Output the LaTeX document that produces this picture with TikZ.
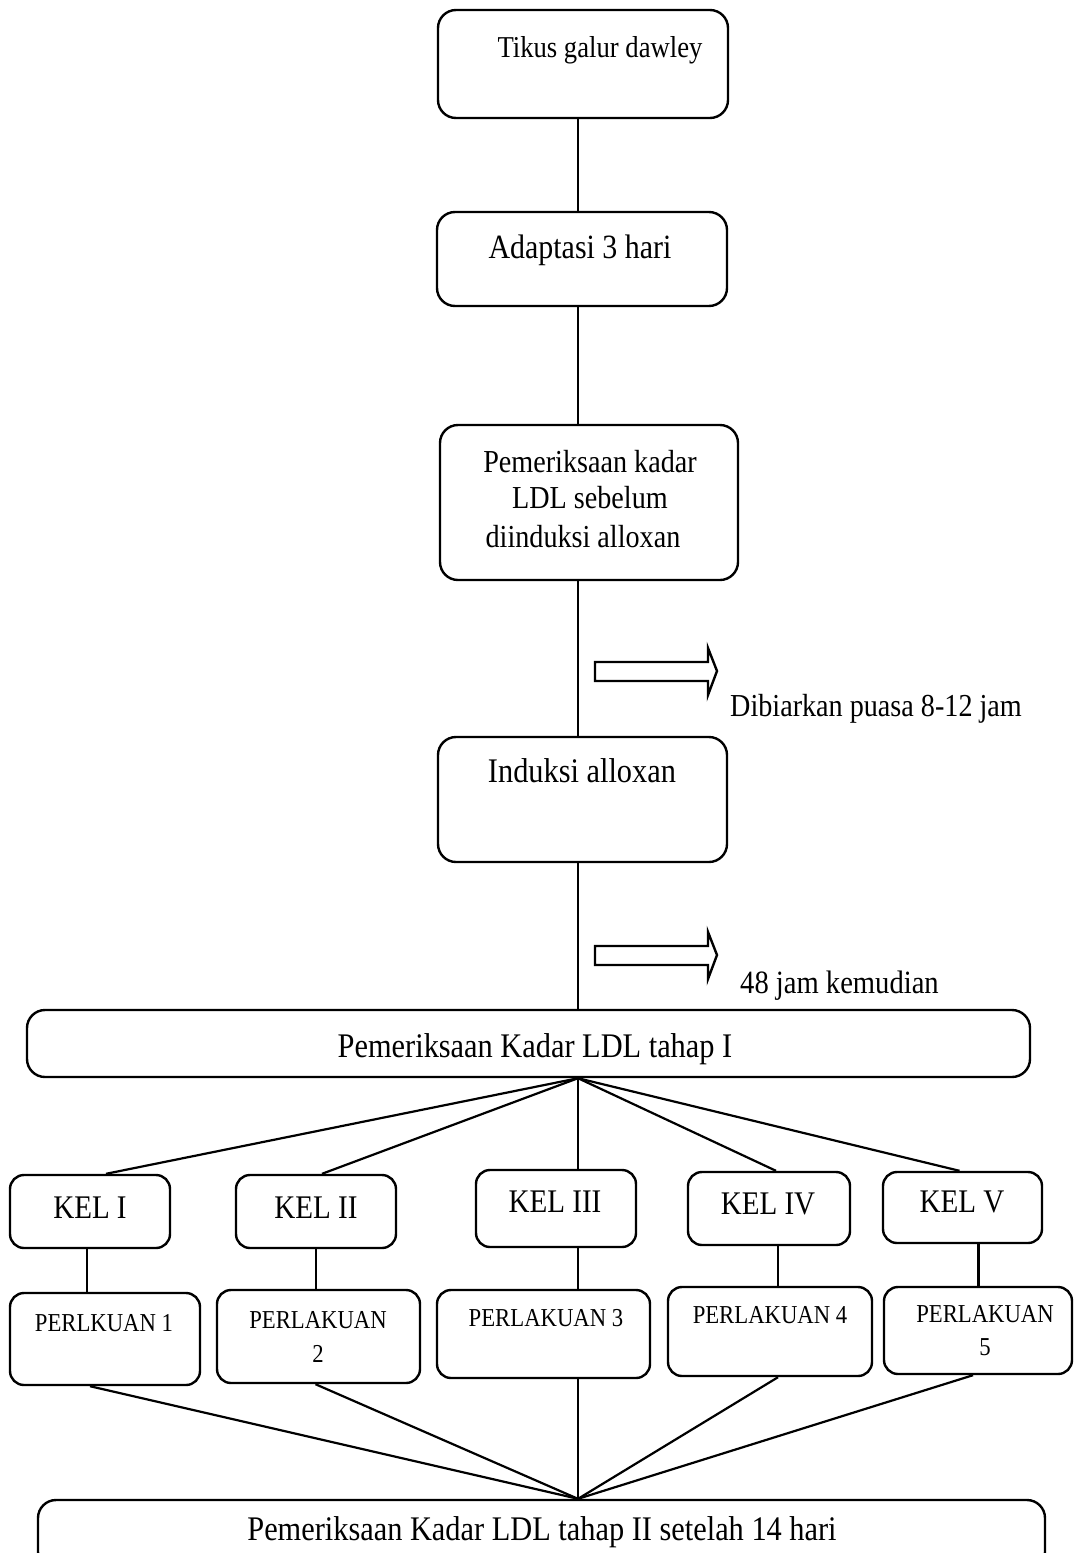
\documentclass[tikz,border=0pt]{standalone}
\usepackage{fontspec}
\setmainfont[FakeStretch=0.88]{Liberation Serif}
\usetikzlibrary{calc}
\begin{document}
\begin{tikzpicture}[x=1pt,y=-1pt,
  box/.style={draw, rounded corners=18pt, line width=2.4pt, inner sep=0pt},
  sbox/.style={draw, rounded corners=14pt, line width=2.4pt, inner sep=0pt},
  lbl/.style={inner sep=0pt, anchor=base},
  conn/.style={line width=2.2pt},
  harrow/.style={draw, line width=2.4pt, fill=white, line join=miter}]
\useasboundingbox (0,0) rectangle (1074,1553);
\clip (0,0) rectangle (1074,1553);
\coordinate (sp) at (578,0);

% main chain boxes
\node[box, minimum width=290pt, minimum height=108pt] (b1) at (583,64) {};
\node[box, minimum width=290pt, minimum height=94pt] (b2) at (582,259) {};
\node[box, minimum width=298pt, minimum height=155pt] (b3) at (589,502.5) {};
\node[box, minimum width=289pt, minimum height=125pt] (b4) at (582.5,799.5) {};
\node[box, minimum width=1003pt, minimum height=67pt] (b5) at (528.5,1043.5) {};

\node[lbl, font=\fontsize{30.3}{36}\selectfont] (t1) at (600,57) {Tikus galur dawley};
\node[lbl, font=\fontsize{34}{40}\selectfont] (t2) at (580,258) {Adaptasi 3 hari};
\node[lbl, font=\fontsize{32}{38}\selectfont] (t3a) at (590,472) {Pemeriksaan kadar};
\node[lbl, font=\fontsize{32}{38}\selectfont] (t3b) at (590,508) {LDL sebelum};
\node[lbl, font=\fontsize{32}{38}\selectfont] (t3c) at (583,547) {diinduksi alloxan};
\node[lbl, font=\fontsize{34.5}{40}\selectfont] (t4) at (582,782) {Induksi alloxan};
\node[lbl, font=\fontsize{34.5}{40}\selectfont] (t5) at (535,1057) {Pemeriksaan Kadar LDL tahap I};

% side notes
\node[inner sep=0pt, anchor=base west, font=\fontsize{32}{38}\selectfont] (n1) at (730,716) {Dibiarkan puasa 8-12 jam};
\node[inner sep=0pt, anchor=base west, font=\fontsize{32.5}{38}\selectfont] (n2) at (740,993) {48 jam kemudian};

% hollow arrows
\draw[harrow] (595,662) -- (708,662) -- (708,648) -- (717,671) -- (708,695) -- (708,681) -- (595,681) -- cycle;
\draw[harrow] (595,946) -- (708,946) -- (708,932) -- (717,955) -- (708,979) -- (708,965) -- (595,965) -- cycle;

% spine connectors
\draw[conn] (b1.south -| sp) -- (b2.north -| sp);
\draw[conn] (b2.south -| sp) -- (b3.north -| sp);
\draw[conn] (b3.south -| sp) -- (b4.north -| sp);
\draw[conn] (b4.south -| sp) -- (b5.north -| sp);

% groups
\node[sbox, minimum width=160pt, minimum height=73pt] (k1) at (90,1211.5) {};
\node[sbox, minimum width=160pt, minimum height=73pt] (k2) at (316,1211.5) {};
\node[sbox, minimum width=160pt, minimum height=77pt] (k3) at (556,1208.5) {};
\node[sbox, minimum width=162pt, minimum height=73pt] (k4) at (769,1208.5) {};
\node[sbox, minimum width=159pt, minimum height=71pt] (k5) at (962.5,1207.5) {};

\node[lbl, font=\fontsize{33}{38}\selectfont] (tk1) at (90,1218) {KEL I};
\node[lbl, font=\fontsize{33}{38}\selectfont] (tk2) at (316,1218) {KEL II};
\node[lbl, font=\fontsize{33}{38}\selectfont] (tk3) at (555,1212) {KEL III};
\node[lbl, font=\fontsize{33}{38}\selectfont] (tk4) at (768,1214) {KEL IV};
\node[lbl, font=\fontsize{33}{38}\selectfont] (tk5) at (962,1212) {KEL V};

% treatments
\node[sbox, minimum width=190pt, minimum height=92pt] (p1) at (105,1339) {};
\node[sbox, minimum width=203pt, minimum height=93pt] (p2) at (318.5,1336.5) {};
\node[sbox, minimum width=213pt, minimum height=88pt] (p3) at (543.5,1334) {};
\node[sbox, minimum width=204pt, minimum height=89pt] (p4) at (770,1331.5) {};
\node[sbox, minimum width=188pt, minimum height=87pt] (p5) at (978,1330.5) {};

\node[lbl, font=\fontsize{25.8}{30}\selectfont] (tp1) at (104,1331) {PERLKUAN 1};
\node[lbl, font=\fontsize{25.8}{30}\selectfont] (tp2a) at (318,1328) {PERLAKUAN};
\node[lbl, font=\fontsize{25.8}{30}\selectfont] (tp2b) at (318,1362) {2};
\node[lbl, font=\fontsize{25.8}{30}\selectfont] (tp3) at (546,1326) {PERLAKUAN 3};
\node[lbl, font=\fontsize{25.8}{30}\selectfont] (tp4) at (770,1323) {PERLAKUAN 4};
\node[lbl, font=\fontsize{25.8}{30}\selectfont] (tp5a) at (985,1322) {PERLAKUAN};
\node[lbl, font=\fontsize{25.8}{30}\selectfont] (tp5b) at (985,1355) {5};

% final box
\node[box, minimum width=1007pt, minimum height=70pt] (f) at (541.5,1535) {};
\node[lbl, font=\fontsize{34.5}{40}\selectfont] (tf) at (542,1540) {Pemeriksaan Kadar LDL tahap II setelah 14 hari};

% fan-out from stage I
\coordinate (j1) at (b5.south -| sp);
\draw[conn] (j1) -- ($(k1.north)+(16,0)$);
\draw[conn] (j1) -- ($(k2.north)+(6,0)$);
\draw[conn] (j1) -- (k3.north -| sp);
\draw[conn] (j1) -- ($(k4.north)+(7,0)$);
\draw[conn] (j1) -- ($(k5.north)+(-3,0)$);

% group to treatment
\draw[conn] ($(k1.south)+(-3,0)$) coordinate (c1) -- (c1 |- p1.north);
\draw[conn] (k2.south) -- (k2.south |- p2.north);
\draw[conn] (k3.south -| sp) -- (p3.north -| sp);
\draw[conn] ($(k4.south)+(9,0)$) coordinate (c4) -- (c4 |- p4.north);
\draw[conn] ($(k5.south)+(16,0)$) coordinate (c5) -- (c5 |- p5.north);

% fan-in to stage II
\coordinate (j2) at (f.north -| sp);
\draw[conn] ($(p1.south)+(-15,0)$) -- (j2);
\draw[conn] ($(p2.south)+(-3,0)$) -- (j2);
\draw[conn] (p3.south -| sp) -- (j2);
\draw[conn] ($(p4.south)+(8,0)$) -- (j2);
\draw[conn] ($(p5.south)+(-5,0)$) -- (j2);
\end{tikzpicture}
\end{document}
